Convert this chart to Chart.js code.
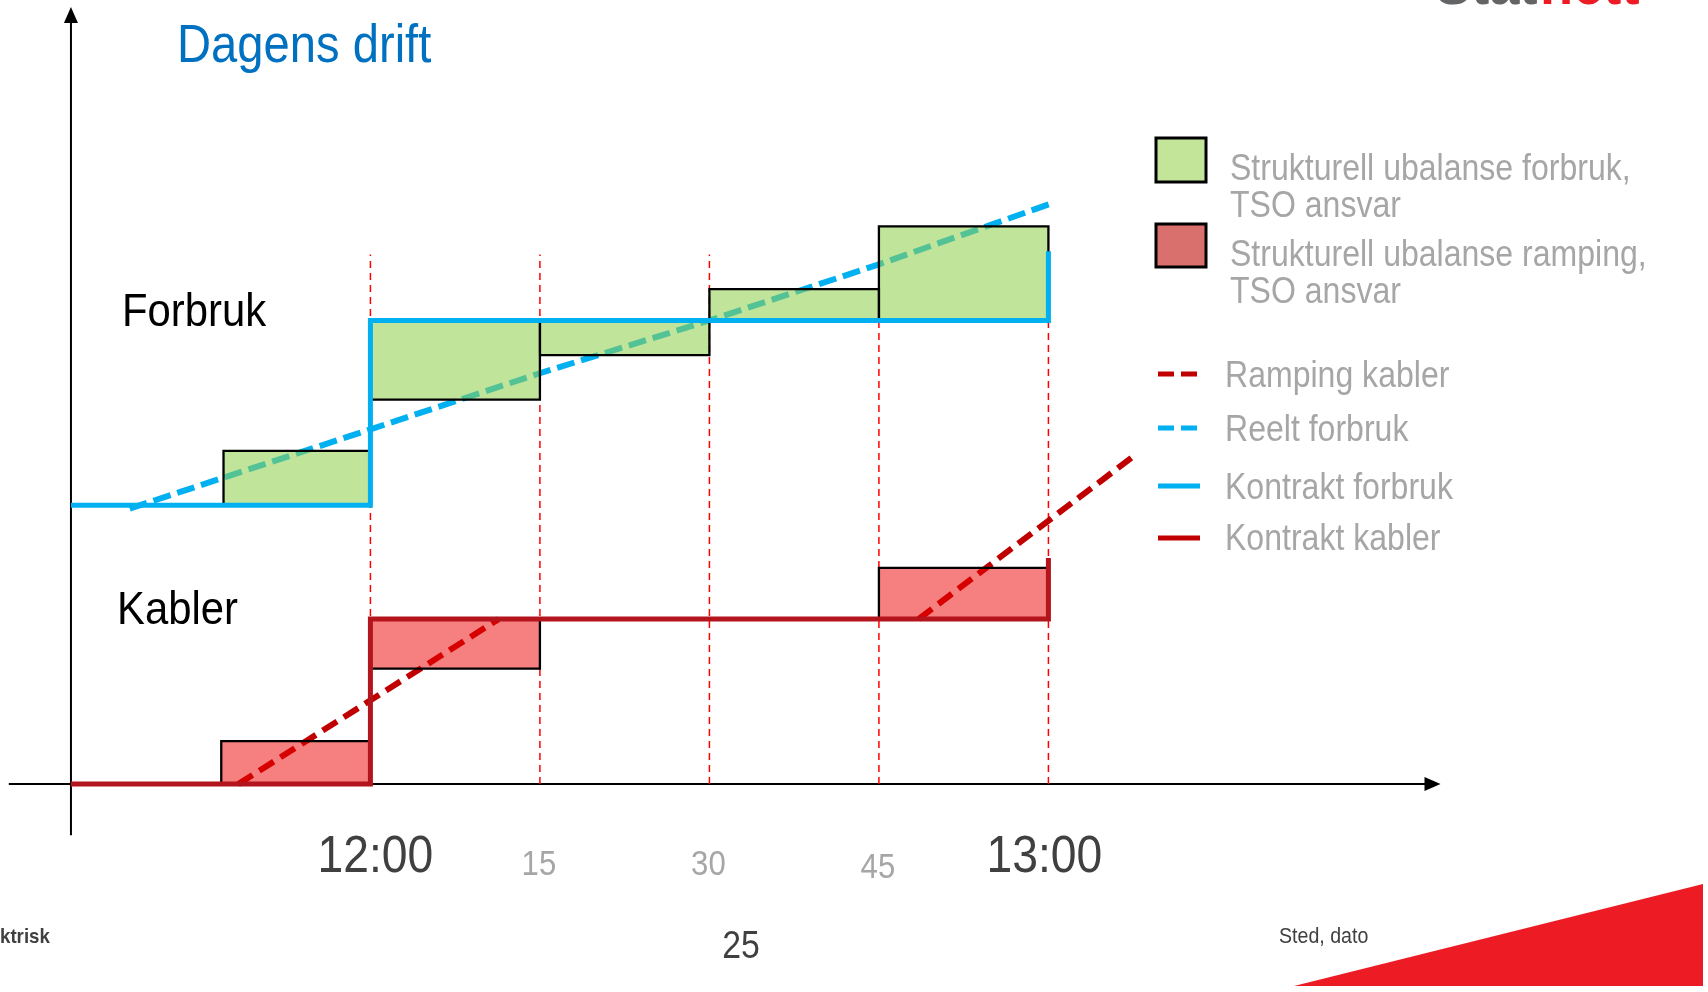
<!DOCTYPE html>
<html>
<head>
<meta charset="utf-8">
<script src="https://cdn.jsdelivr.net/npm/chart.js@4/dist/chart.umd.min.js"></script>
<style>
  html, body { margin: 0; padding: 0; background: #fff; overflow: hidden; }
  canvas { display: block; }
</style>
</head>
<body>
<canvas id="c" width="1708" height="992" style="width:1708px;height:992px"></canvas>
<script>
// Time axis: minutes after 12:00. Vertical axis: power (relative units).
const tickMinutes = [0, 15, 30, 45, 60];
const tickLabels = ['12:00', '15', '30', '45', '13:00'];

// Forbruk
const kontraktForbrukT = [-26.5, 0, 0, 60, 60];
const kontraktForbrukP = [16.9, 16.9, 28.1, 28.1, 32.3];
const reeltForbrukT = [-21.3, 0, 15, 30, 45, 60.3];
const reeltForbrukP = [16.7, 21.5, 24.9, 28.1, 31.5, 35.2];

// Kabler (the flat stretch of the ramp lies under the contract line)
const kontraktKablerT = [-26.5, 0, 0, 60, 60];
const kontraktKablerP = [0, 0, 10, 10, 13.7];
const rampingKablerT = [-11.7, 11.35, 30, 48.5, 67.4];
const rampingKablerP = [0, 10, null, 10, 19.8];

// Structural imbalance blocks
const forbrukBlockStart = [-13, 0, 15, 30, 45];
const forbrukBlockEnd = [0, 15, 30, 45, 60];
const forbrukBlockLow = [16.9, 23.3, 26.0, 28.1, 28.1];
const forbrukBlockHigh = [20.2, 28.1, 28.1, 30.0, 33.8];

const rampingBlockStart = [-13.2, 0, 45];
const rampingBlockEnd = [0, 15, 60];
const rampingBlockLow = [0, 7.0, 10.0];
const rampingBlockHigh = [2.6, 10.0, 13.1];

// Quarter-hour marker height and axis extents
const markerTop = 32.1;
const yAxisAt = -26.5;
const yAxisRange = [-3.1, 47.1];
const xAxisRange = [-32, 94.7];

const legendLabels = [
  'Strukturell ubalanse forbruk,\nTSO ansvar',
  'Strukturell ubalanse ramping,\nTSO ansvar',
  'Ramping kabler',
  'Reelt forbruk',
  'Kontrakt forbruk',
  'Kontrakt kabler'
];

const BLUE = '#00B0F0';
const DARKRED = '#C00000';
const CONTRACT_RED = '#B4141C';
const FONT = '"Liberation Sans", Arial, Helvetica, sans-serif';
const SX = 0.89; // horizontal squeeze of the slide typography

const pts = (ts, ps) => ts.map((t, i) => ({ x: t, y: ps[i] }));
const rect = (t0, t1, lo, hi) => [
  { x: t0, y: lo }, { x: t1, y: lo }, { x: t1, y: hi }, { x: t0, y: hi }, { x: t0, y: lo }
];

const base = { pointRadius: 0, pointHoverRadius: 0, tension: 0, fill: false, spanGaps: false, borderJoinStyle: 'miter', borderCapStyle: 'butt' };

const datasets = [];

// dotted quarter-hour markers
tickMinutes.forEach(t => datasets.push({
  ...base, label: 'marker ' + t,
  data: [{ x: t, y: 0 }, { x: t, y: markerTop }],
  borderColor: '#FF0000', borderWidth: 1.5, borderDash: [7, 5], order: 4
}));

datasets.push({
  ...base, label: legendLabels[3],
  data: pts(reeltForbrukT, reeltForbrukP),
  borderColor: BLUE, borderWidth: 6, borderDash: [18, 7], order: 3
});
datasets.push({
  ...base, label: legendLabels[2],
  data: pts(rampingKablerT, rampingKablerP),
  borderColor: DARKRED, borderWidth: 6, borderDash: [17, 8], order: 3
});

forbrukBlockStart.forEach((t0, i) => datasets.push({
  ...base, label: legendLabels[0],
  data: rect(t0, forbrukBlockEnd[i], forbrukBlockLow[i], forbrukBlockHigh[i]),
  fill: 'shape', backgroundColor: 'rgba(146,208,80,0.57)',
  borderColor: '#000', borderWidth: 2.3, order: 2
}));
rampingBlockStart.forEach((t0, i) => datasets.push({
  ...base, label: legendLabels[1],
  data: rect(t0, rampingBlockEnd[i], rampingBlockLow[i], rampingBlockHigh[i]),
  fill: 'shape', backgroundColor: 'rgba(238,0,0,0.5)',
  borderColor: '#000', borderWidth: 2.3, order: 2
}));

datasets.push({
  ...base, label: legendLabels[4],
  data: pts(kontraktForbrukT, kontraktForbrukP),
  borderColor: BLUE, borderWidth: 5, order: 1
});
datasets.push({
  ...base, label: legendLabels[5],
  data: pts(kontraktKablerT, kontraktKablerP),
  borderColor: CONTRACT_RED, borderWidth: 5, order: 1
});

function txt(ctx, s, x, y, size, color, align = 'left', weight = 'normal') {
  ctx.save();
  ctx.font = `${weight} ${size}px ${FONT}`;
  ctx.fillStyle = color;
  ctx.textAlign = align;
  ctx.textBaseline = 'alphabetic';
  ctx.translate(x, y);
  ctx.scale(SX, 1);
  ctx.fillText(s, 0, 0);
  ctx.restore();
}

const background = {
  id: 'background',
  beforeDraw(chart) {
    const { ctx, width, height } = chart;
    ctx.save();
    ctx.fillStyle = '#fff';
    ctx.fillRect(0, 0, width, height);
    ctx.restore();
  }
};

// axes with arrow heads, drawn under the series
const arrowAxes = {
  id: 'arrowAxes',
  beforeDatasetsDraw(chart) {
    const { ctx, scales: { x, y } } = chart;
    ctx.save();
    ctx.strokeStyle = '#000';
    ctx.fillStyle = '#000';
    ctx.lineWidth = 2;
    const ax = x.getPixelForValue(yAxisAt);
    const yb = y.getPixelForValue(yAxisRange[0]);
    const yt = y.getPixelForValue(yAxisRange[1]);
    ctx.beginPath();
    ctx.moveTo(ax, yb);
    ctx.lineTo(ax, yt + 14);
    ctx.stroke();
    ctx.beginPath();
    ctx.moveTo(ax, yt);
    ctx.lineTo(ax - 7, yt + 16);
    ctx.lineTo(ax + 7, yt + 16);
    ctx.closePath();
    ctx.fill();

    const ay = y.getPixelForValue(0);
    const xl = x.getPixelForValue(xAxisRange[0]);
    const xr = x.getPixelForValue(xAxisRange[1]);
    ctx.beginPath();
    ctx.moveTo(xl, ay);
    ctx.lineTo(xr - 14, ay);
    ctx.stroke();
    ctx.beginPath();
    ctx.moveTo(xr, ay);
    ctx.lineTo(xr - 16, ay - 7);
    ctx.lineTo(xr - 16, ay + 7);
    ctx.closePath();
    ctx.fill();
    ctx.restore();
  }
};

const annotations = {
  id: 'annotations',
  afterDraw(chart) {
    const { ctx, scales: { x } } = chart;
    const dsByLabel = l => chart.data.datasets.find(d => d.label === l);

    // title and group names
    txt(ctx, 'Dagens drift', 177, 62, 53, '#0070C0');
    txt(ctx, 'Forbruk', 122, 326, 47, '#000');
    txt(ctx, 'Kabler', 117, 624, 47, '#000');

    // time labels
    const nudge = [5, -1, -1, -1, -4];
    tickMinutes.forEach((t, i) => {
      const big = tickLabels[i].includes(':');
      const px = x.getPixelForValue(t) + nudge[i];
      txt(ctx, tickLabels[i], px, big ? 872 : (i === 3 ? 878 : 875), big ? 52 : 35, big ? '#404040' : '#A6A6A6', 'center');
    });

    // legend: filled blocks
    const swatches = [
      { top: 138, h: 44, fill: '#C3E59A', baselines: [180, 217] },
      { top: 224, h: 43, fill: '#D9706E', baselines: [266, 303] }
    ];
    swatches.forEach((s, i) => {
      ctx.save();
      ctx.fillStyle = s.fill;
      ctx.fillRect(1156, s.top, 50, s.h);
      ctx.strokeStyle = '#000';
      ctx.lineWidth = 3;
      ctx.strokeRect(1156, s.top, 50, s.h);
      ctx.restore();
      legendLabels[i].split('\n').forEach((line, k) =>
        txt(ctx, line, 1230, s.baselines[k], 36, '#A6A6A6'));
    });

    // legend: lines
    const lineRows = [
      { y: 374, base: 387, color: DARKRED },
      { y: 428, base: 441, color: BLUE },
      { y: 486, base: 499, color: BLUE },
      { y: 538, base: 550, color: DARKRED }
    ];
    lineRows.forEach((r, j) => {
      const ds = dsByLabel(legendLabels[j + 2]);
      ctx.save();
      ctx.strokeStyle = r.color;
      ctx.lineWidth = 5;
      ctx.setLineDash(ds.borderDash ? [16, 7] : []);
      ctx.beginPath();
      ctx.moveTo(1158, r.y);
      ctx.lineTo(1200, r.y);
      ctx.stroke();
      ctx.restore();
      txt(ctx, legendLabels[j + 2], 1225, r.base, 36, '#A6A6A6');
    });

    // footer
    txt(ctx, 'ktrisk', 0, 943, 21, '#404040', 'left', 'bold');
    txt(ctx, '25', 741, 958, 38, '#404040', 'center');
    txt(ctx, 'Sted, dato', 1279, 943, 22, '#404040');

    // logo, mostly above the visible area
    txt(ctx, 'Stat', 1435, 4, 61, '#636466', 'left', 'bold');
    txt(ctx, 'nett', 1540, 4, 61, '#ED1C24', 'left', 'bold');

    // corner wedge
    ctx.save();
    ctx.fillStyle = '#ED1C24';
    ctx.beginPath();
    ctx.moveTo(1294, 986);
    ctx.lineTo(1703, 884);
    ctx.lineTo(1703, 986);
    ctx.closePath();
    ctx.fill();
    ctx.restore();
  }
};

new Chart(document.getElementById('c'), {
  type: 'line',
  data: { datasets },
  options: {
    responsive: false,
    maintainAspectRatio: false,
    devicePixelRatio: 1,
    animation: false,
    events: [],
    layout: { padding: 0 },
    plugins: { legend: { display: false }, tooltip: { enabled: false }, title: { display: false } },
    scales: {
      x: { type: 'linear', display: false, min: -32.78, max: 118.37 },
      y: { type: 'linear', display: false, min: -12.6, max: 47.52 }
    }
  },
  plugins: [background, arrowAxes, annotations]
});
</script>
</body>
</html>
